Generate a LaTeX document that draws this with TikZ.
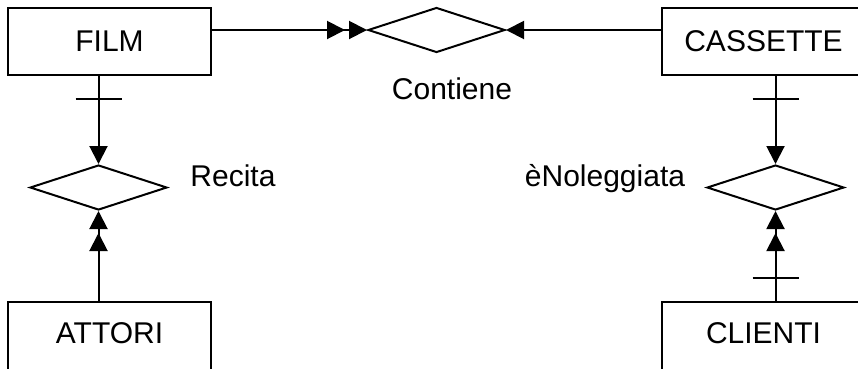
\documentclass[tikz,border=0pt]{standalone}
\usepackage{fontspec}
\setmainfont{Liberation Sans}
\usetikzlibrary{arrows.meta,shapes.geometric}

\begin{document}
\begin{tikzpicture}[x=1pt,y=-1pt,line width=2pt,
  txt/.style={font=\fontsize{30}{35}\selectfont},
  entity/.style={draw,rectangle,minimum width=203pt,minimum height=67pt,inner sep=0pt,txt},
  cut/.style={minimum height=75pt,text height=21.5pt,text depth=14.5pt},
  relation/.style={draw,diamond,minimum width=137pt,minimum height=45pt,inner sep=0pt},
  rlabel/.style={txt,inner sep=0pt,anchor=base},
  one/.style={-{Triangle[length=18pt,width=18pt]}},
  many/.style={-{Triangle[length=18pt,width=18pt,sep=4pt] Triangle[length=18pt,width=18pt]}},
  tick/.style={line width=2pt}]

  \useasboundingbox (0,0) rectangle (858,368);

  % entities (the lower two run past the bottom edge)
  \node[entity]     (film)     at (109.5,41.5)  {FILM};
  \node[entity]     (cassette) at (763.5,41.5)  {CASSETTE};
  \node[entity,cut] (attori)   at (109.5,339.5) {ATTORI};
  \node[entity,cut] (clienti)  at (763.5,339.5) {CLIENTI};

  % relationships
  \node[relation] (contiene)   at (436.5,30)    {};
  \node[relation] (recita)     at (98.5,187.5)  {};
  \node[relation] (noleggiata) at (775.5,187.5) {};

  % relationship names
  \node[rlabel] (lcontiene)   at (452,99)  {Contiene};
  \node[rlabel] (lrecita)     at (233,186) {Recita};
  \node[rlabel] (lnoleggiata) at (605,186) {èNoleggiata};

  % FILM -- Contiene -- CASSETTE
  \draw[many] (contiene.west -| film.east) -- (contiene.west);
  \draw[one]  (contiene.east -| cassette.west) -- (contiene.east);

  % FILM -- Recita -- ATTORI
  \draw[one]  (recita.north |- film.south) -- (recita.north);
  \draw[tick] ([xshift=-23pt,yshift=-23pt]recita.north |- film.south) -- ++(46,0);
  \draw[many] (recita.south |- attori.north) -- (recita.south);

  % CASSETTE -- èNoleggiata -- CLIENTI
  \draw[one]  (noleggiata.north |- cassette.south) -- (noleggiata.north);
  \draw[tick] ([xshift=-23pt,yshift=-23pt]noleggiata.north |- cassette.south) -- ++(46,0);
  \draw[many] (noleggiata.south |- clienti.north) -- (noleggiata.south);
  \draw[tick] ([xshift=-23pt,yshift=23pt]noleggiata.south |- clienti.north) -- ++(46,0);
\end{tikzpicture}
\end{document}
